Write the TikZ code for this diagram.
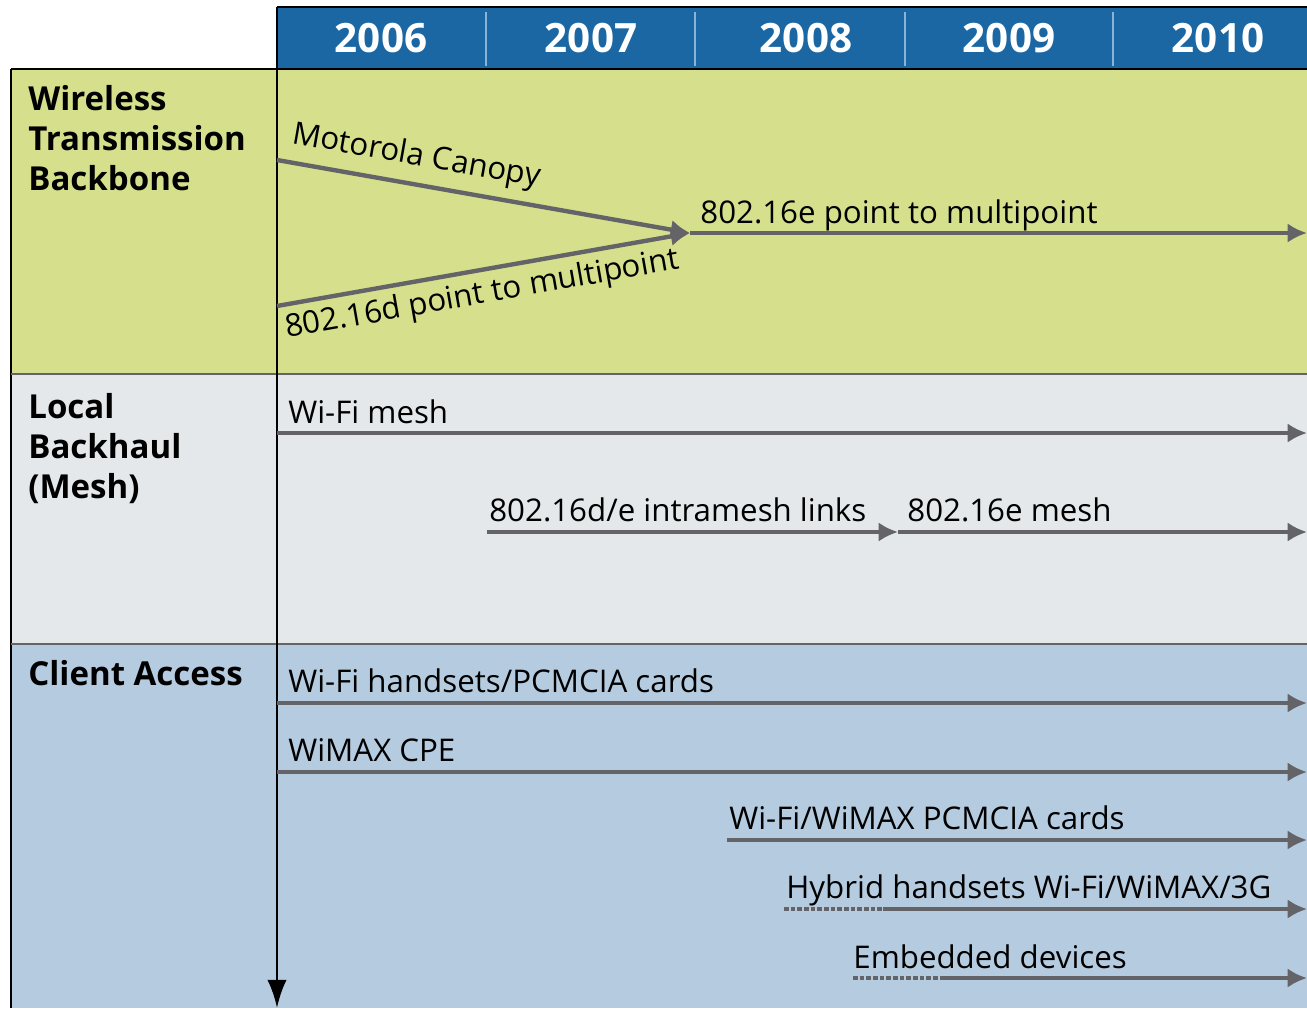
\documentclass[tikz,border=0pt]{standalone}
\usepackage{fontspec}
\setmainfont{Open Sans}
\usetikzlibrary{arrows.meta}

\definecolor{yearblue}{RGB}{27,103,163}
\definecolor{backbonegreen}{RGB}{214,224,140}
\definecolor{meshgray}{RGB}{228,232,234}
\definecolor{clientblue}{RGB}{181,203,224}
\definecolor{flowgray}{RGB}{100,100,104}
\definecolor{dividerblue}{RGB}{140,178,212}

\begin{document}
\begin{tikzpicture}[
    x = 0.02cm, y = -0.02cm,
    > = Latex,
    flow/.style = {draw = flowgray, line width = 2.5pt, -{Latex[length = 11pt, width = 11pt]}},
    planned/.style = {draw = flowgray, line width = 2pt, dash pattern = on 2.6pt off 1.2pt},
    tech/.style = {anchor = base west, inner sep = 0pt, font = \fontsize{17.8}{20}\selectfont},
    rowhead/.style = {anchor = base west, inner sep = 0pt, align = left,
        font = \fontsize{18.8}{22.7}\selectfont\bfseries},
    yearlbl/.style = {text = white, inner sep = 0pt, font = \fontsize{23}{26}\selectfont\bfseries}
]

        \useasboundingbox (0,0) rectangle (1307,1008);
        \fill[white] (0,0) rectangle (1307,1008);

        % Row backgrounds and the year band.
        \fill[backbonegreen] (11,69) rectangle (1307,374);
        \fill[meshgray] (11,374) rectangle (1307,644);
        \fill[clientblue] (11,644) rectangle (1307,1008);
        \fill[yearblue] (277,7) rectangle (1307,68);

        % Frame lines.
        \draw[line width = 1.2pt] (277,7) -- (1307,7);
        \draw[line width = 1.2pt] (11,69) -- (1307,69);
        \draw[line width = 1.2pt] (11,69) -- (11,1008);
        \draw[flowgray, line width = 1.3pt] (11,374) -- (1307,374);
        \draw[flowgray, line width = 1.3pt] (11,644) -- (1307,644);
        \foreach \x in {486, 695, 905, 1113}
            \draw[dividerblue, line width = 1pt] (\x,12) -- (\x,66);

        % Years.
        \foreach \yr/\x in {2006/381, 2007/591, 2008/806, 2009/1009, 2010/1218}
            \node[yearlbl] (y\yr) at (\x,38) {\yr};

        % Time axis.
        \coordinate (axis top) at (277,7);
        \coordinate (axis end) at (277,1008);
        \draw[line width = 1.7pt, -{Latex[length = 16pt, width = 11pt]}] (axis top) to (axis end);

        % Row headings (base is the last line).
        \node[rowhead] (backbone) at (28,190) {Wireless\\Transmission\\Backbone};
        \node[rowhead] (backhaul) at (28,498) {Local\\Backhaul\\(Mesh)};
        \node[rowhead] (access) at (28,685) {Client Access};

        % Wireless transmission backbone.
        \coordinate (canopy s) at (277,160);
        \coordinate (pmp s) at (277,306);
        \coordinate (merge) at (690,233);
        \coordinate (backbone e) at (1307,233);
        \draw[flow] (canopy s) to (merge);
        \draw[flow] (pmp s) to (merge);
        \draw[flow] (merge) to (backbone e);
        \node[tech, rotate = -10] (canopy) at (291,143) {Motorola Canopy};
        \node[tech, rotate = 10] (pmp d) at (287,338) {802.16d point to multipoint};
        \node[tech] (pmp e) at (700,223) {802.16e point to multipoint};

        % Local backhaul (mesh).
        \coordinate (wifimesh s) at (277,433);
        \coordinate (wifimesh e) at (1307,433);
        \coordinate (intra s) at (487,532);
        \coordinate (intra e) at (898,532);
        \coordinate (emesh e) at (1307,532);
        \draw[flow] (wifimesh s) to (wifimesh e);
        \draw[flow] (intra s) to (intra e);
        \draw[flow] (intra e) to (emesh e);
        \node[tech] (wifimesh) at (288,423) {Wi-Fi mesh};
        \node[tech] (intra) at (489,521) {802.16d/e intramesh links};
        \node[tech] (emesh) at (907,521) {802.16e mesh};

        % Client access.
        \coordinate (cards s) at (277,703);
        \coordinate (cards e) at (1307,703);
        \coordinate (cpe s) at (277,772);
        \coordinate (cpe e) at (1307,772);
        \coordinate (dual s) at (727,840);
        \coordinate (dual e) at (1307,840);
        \coordinate (hybrid p) at (784,909);
        \coordinate (hybrid s) at (883,909);
        \coordinate (hybrid e) at (1307,909);
        \coordinate (embed p) at (853,978);
        \coordinate (embed s) at (940,978);
        \coordinate (embed e) at (1307,978);
        \draw[flow] (cards s) to (cards e);
        \draw[flow] (cpe s) to (cpe e);
        \draw[flow] (dual s) to (dual e);
        \draw[planned] (hybrid p) to (hybrid s);
        \draw[flow] (hybrid s) to (hybrid e);
        \draw[planned] (embed p) to (embed s);
        \draw[flow] (embed s) to (embed e);
        \node[tech] (cards) at (288,692) {Wi-Fi handsets/PCMCIA cards};
        \node[tech] (cpe) at (288,761) {WiMAX CPE};
        \node[tech] (dual) at (729,829) {Wi-Fi/WiMAX PCMCIA cards};
        \node[tech] (hybrid) at (786,898) {Hybrid handsets Wi-Fi/WiMAX/3G};
        \node[tech] (embed) at (853,968) {Embedded devices};
    \end{tikzpicture}
\end{document}
